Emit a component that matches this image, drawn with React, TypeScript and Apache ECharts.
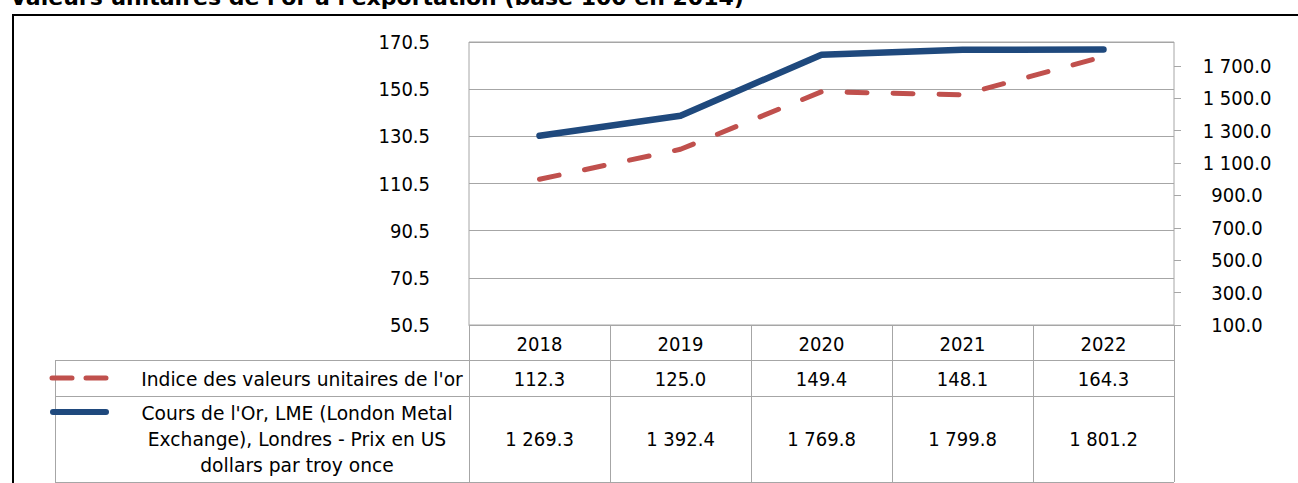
import React, { useEffect, useRef } from 'react';
import * as echarts from 'echarts';

const years = ['2018', '2019', '2020', '2021', '2022'];
const indiceValues = [112.3, 125.0, 149.4, 148.1, 164.3];
const coursValues = [1269.3, 1392.4, 1769.8, 1799.8, 1801.2];
const leftMin = 50.5;
const leftMax = 170.5;
const leftInterval = 20;
const rightMin = 100;
const rightMax = 1848;
const rightInterval = 200;
const indiceName = "Indice des valeurs unitaires de l'or";
const coursName = "Cours de l'Or, LME (London Metal\nExchange), Londres - Prix en US\ndollars par troy once";
const titleText = "Valeurs unitaires de l'or à l'exportation (base 100 en 2014)";

const NUMFONT = '"DejaVu Sans Condensed", "DejaVu Sans", sans-serif';
const TXTFONT = '"DejaVu Sans", sans-serif';
const FS = 20;
const TFS = 18.7;
const RED = '#C0504D';
const BLUE = '#1F497D';
const GRIDC = '#A6A6A6';

const fmt = (v: number) => {
  const s = v.toFixed(1);
  const [i, d] = s.split('.');
  return i.replace(/\B(?=(\d{3})+(?!\d))/g, ' ') + '.' + d;
};

const W = 1298;
const H = 483;
const GL = 469;
const GR = 1174;
const GT = 42;
const GB = 325;
const TL = 55;
const ROW1 = 360;
const ROW2 = 396;
const TB = 482;

export default function App() {
  const ref = useRef<HTMLDivElement>(null);
  useEffect(() => {
    document.body.style.margin = '0';
    const chart = echarts.init(ref.current!, null, { renderer: 'svg' });
    const colW = (GR - GL) / years.length;
    const g: any[] = [];
    const line = (x1: number, y1: number, x2: number, y2: number, color = GRIDC, w = 1) =>
      g.push({ type: 'line', silent: true, shape: { x1, y1, x2, y2 }, style: { stroke: color, lineWidth: w } });
    // outer frame
    g.push({ type: 'rect', shape: { x: 13, y: 15, width: 1400, height: 600 }, style: { fill: 'none', stroke: '#000', lineWidth: 2 } });
    // title (cropped at top in the reference)
    g.push({ type: 'text', x: 10, y: 8, style: { text: titleText, font: `bold 22px ${TXTFONT}`, fill: '#000', align: 'left', verticalAlign: 'bottom' } });
    // table lines
    line(TL + 0.5, ROW1, TL + 0.5, TB);
    line(TL, ROW1 + 0.5, GR, ROW1 + 0.5);
    line(TL, ROW2 + 0.5, GR, ROW2 + 0.5);
    line(TL, TB + 0.5, GR, TB + 0.5);
    for (let k = 0; k <= years.length; k++) {
      const x = Math.round(GL + k * colW) + 0.5;
      line(x, ROW1, x, TB);
    }
    // legend keys
    g.push({ type: 'line', shape: { x1: 52, y1: 378, x2: 106, y2: 378 }, style: { stroke: RED, lineWidth: 5, lineCap: 'round', lineDash: [20, 14] } });
    g.push({ type: 'line', shape: { x1: 53, y1: 412, x2: 106, y2: 412 }, style: { stroke: BLUE, lineWidth: 6, lineCap: 'round' } });
    g.push({ type: 'text', x: 302, y: 379, style: { text: indiceName, font: `${TFS}px ${TXTFONT}`, fill: '#000', align: 'center', verticalAlign: 'middle' } });
    g.push({ type: 'text', x: 297, y: 439, style: { text: coursName, font: `${TFS}px ${TXTFONT}`, lineHeight: 26, fill: '#000', align: 'center', verticalAlign: 'middle' } });
    years.forEach((_, k) => {
      const cx = GL + (k + 0.5) * colW;
      g.push({ type: 'text', x: cx, y: 379, style: { text: fmt(indiceValues[k]), font: `${FS}px ${NUMFONT}`, fill: '#000', align: 'center', verticalAlign: 'middle' } });
      g.push({ type: 'text', x: cx, y: 439, style: { text: fmt(coursValues[k]), font: `${FS}px ${NUMFONT}`, fill: '#000', align: 'center', verticalAlign: 'middle' } });
    });

    chart.setOption({
      animation: false,
      backgroundColor: '#fff',
      grid: { left: GL, right: W - GR, top: GT, bottom: H - GB, show: true, borderColor: GRIDC, borderWidth: 1, containLabel: false },
      xAxis: {
        type: 'category',
        data: years,
        boundaryGap: true,
        axisLine: { show: true, lineStyle: { color: GRIDC } },
        axisTick: { show: true, length: ROW1 - GB, lineStyle: { color: GRIDC } },
        axisLabel: { color: '#000', fontFamily: NUMFONT, fontSize: FS, margin: 9 },
        splitLine: { show: false },
      },
      yAxis: [
        {
          type: 'value',
          min: leftMin,
          max: leftMax,
          interval: leftInterval,
          axisLine: { show: false },
          axisTick: { show: false },
          axisLabel: { color: '#000', fontFamily: NUMFONT, fontSize: FS, margin: 39, formatter: (v: number) => v.toFixed(1) },
          splitLine: { show: true, lineStyle: { color: GRIDC, width: 1 } },
        },
        {
          type: 'value',
          position: 'right',
          min: rightMin,
          max: rightMax,
          interval: rightInterval,
          axisLine: { show: false },
          axisTick: { show: true, inside: false, length: 7, lineStyle: { color: GRIDC } },
          axisLabel: { color: '#000', fontFamily: NUMFONT, fontSize: FS, margin: 63, align: 'center', showMaxLabel: false, formatter: (v: number) => fmt(v) },
          splitLine: { show: false },
        },
      ],
      series: [
        {
          type: 'line',
          name: indiceName,
          yAxisIndex: 0,
          data: indiceValues,
          symbol: 'none',
          lineStyle: { color: RED, width: 5, type: [20, 26], cap: 'round', join: 'round' },
          z: 3,
        },
        {
          type: 'line',
          name: coursName,
          yAxisIndex: 1,
          data: coursValues,
          symbol: 'none',
          lineStyle: { color: BLUE, width: 6.5, cap: 'round', join: 'round' },
          z: 4,
        },
      ],
      graphic: g,
    });
    return () => chart.dispose();
  }, []);
  return <div ref={ref} style={{ width: W, height: H }} />;
}
